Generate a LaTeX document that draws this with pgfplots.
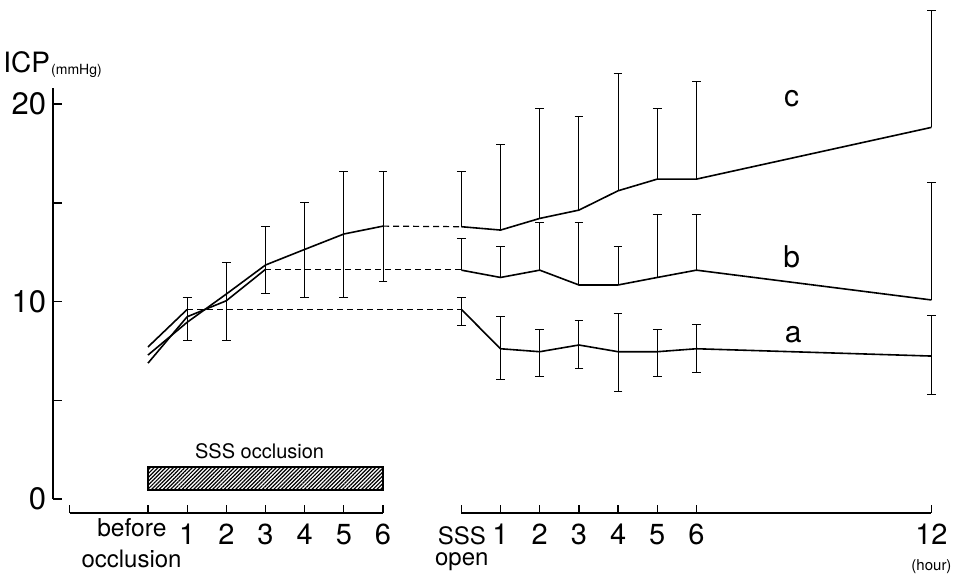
\documentclass[border=0pt]{standalone}
\usepackage{fontspec}
\setmainfont{TeX Gyre Heros}
\usepackage{pgfplots}
\pgfplotsset{compat=1.18}
\usetikzlibrary{calc,patterns.meta}

% 1 px of the reference = 0.5pt; x unit = 39.18 px, y unit = 19.75 px
\pgfplotsset{
  ebar/.style={draw=none, forget plot,
    error bars/.cd, y dir=#1, y explicit,
    error bar style={draw=black, line width=0.5pt},
    error mark options={draw=black, rotate=90, mark size=2.2pt, line width=0.5pt}},
  curve/.style={black, line width=0.8pt, forget plot},
  link/.style={black, line width=0.6pt, dash pattern=on 3pt off 2pt, forget plot},
}

\begin{document}
\begin{tikzpicture}
\begin{axis}[name=main,
  x=19.59pt, y=9.875pt,
  xmin=-2.42, xmax=20.6, ymin=0, ymax=20.8,
  clip=false,
  axis x line=none, axis y line=left, xtick=\empty,
  y axis line style={-, line width=1.3pt},
  ytick={0,5,10,15,20}, yticklabels={0,,10,,20},
  tick align=inside, major tick length=4.5pt,
  ytick style={line width=0.7pt, black},
  yticklabel style={font=\fontsize{15.5}{15.5}\selectfont},
]
  % occlusion bar
  \addplot[draw=black, line width=0.6pt, forget plot,
    pattern={Lines[angle=45, distance=1.35pt, line width=0.6pt]}]
    coordinates {(0,0.46) (6,0.46) (6,1.62) (0,1.62)} -- cycle;

  % during occlusion
  \addplot[curve] coordinates {(0,7.70) (1,9.60)};
  \addplot[curve] coordinates {(0,6.88) (1,9.23) (2,10.04) (3,11.63)};
  \addplot[curve] coordinates {(0,7.29) (1,8.95) (2,10.38) (3,11.85) (4,12.64) (5,13.42) (6,13.82)};
  \addplot[ebar=both] coordinates {
    (1,9.14) +- (0,1.09)
    (2,10.02) +- (0,1.98)
    (3,12.12) +- (0,1.70)
    (4,12.60) +- (0,2.40)
    (5,13.41) +- (0,3.20)
    (6,13.80) +- (0,2.80)
  };

  % levels carried to reopening
  \addplot[link] coordinates {(1,9.60) (8,9.60)};
  \addplot[link] coordinates {(3,11.63) (8,11.63)};
  \addplot[link] coordinates {(6,13.82) (8,13.79)};

  % after SSS open (x = 8 + hour, 12 h at 20)
  \addplot[curve] coordinates {(8,9.60) (9,7.61) (10,7.46) (11,7.80) (12,7.46) (13,7.46) (14,7.61) (20,7.24)};
  \addplot[curve] coordinates {(8,11.59) (9,11.22) (10,11.59) (11,10.84) (12,10.84) (13,11.22) (14,11.59) (20,10.08)};
  \addplot[curve] coordinates {(8,13.79) (9,13.62) (10,14.21) (11,14.63) (12,15.61) (13,16.20) (14,16.20) (20,18.82)};

  \addplot[ebar=both] coordinates {
    (8,9.60) += (0,0.59) -= (0,0.79)
    (9,7.61) += (0,1.61) -= (0,1.58)
    (10,7.46) += (0,1.15) -= (0,1.23)
    (11,7.80) += (0,1.23) -= (0,1.17)
    (12,7.46) += (0,1.96) -= (0,2.03)
    (13,7.46) += (0,1.15) -= (0,1.23)
    (14,7.61) += (0,1.22) -= (0,1.18)
    (20,7.24) += (0,2.03) -= (0,1.97)
  };
  \addplot[ebar=plus] coordinates {
    (8,11.59) += (0,1.61)
    (9,11.22) += (0,1.57)
    (10,11.59) += (0,2.40)
    (11,10.84) += (0,3.15)
    (12,10.84) += (0,1.95)
    (13,11.22) += (0,3.18)
    (14,11.59) += (0,2.81)
    (20,10.08) += (0,5.94)
  };
  \addplot[ebar=plus] coordinates {
    (8,13.79) += (0,2.78)
    (9,13.62) += (0,4.35)
    (10,14.21) += (0,5.57)
    (11,14.63) += (0,4.73)
    (12,15.61) += (0,5.93)
    (13,16.20) += (0,3.56)
    (14,16.20) += (0,4.96)
    (20,18.82) += (0,5.94)
  };

  % texts
  \node[anchor=base west, inner sep=0, font=\fontsize{14}{14}\selectfont] at (axis cs:-3.70,21.62) {ICP};
  \node[anchor=base west, inner sep=0, font=\fontsize{7}{7}\selectfont] at (axis cs:-2.48,21.52) {(mmHg)};
  \node[font=\fontsize{15}{15}\selectfont] at (axis cs:16.43,20.25) {c};
  \node[font=\fontsize{15}{15}\selectfont] at (axis cs:16.43,12.25) {b};
  \node[font=\fontsize{15}{15}\selectfont] at (axis cs:16.47,8.30) {a};
  \node[font=\fontsize{10}{10}\selectfont] at (axis cs:2.85,2.40) {SSS occlusion};
  \node[anchor=base, inner sep=0, font=\fontsize{12.3}{12.3}\selectfont] at (axis cs:-0.41,-1.91) {before};
  \node[anchor=base, inner sep=0, font=\fontsize{12}{12}\selectfont] at (axis cs:-0.42,-3.49) {occlusion};
  \node[anchor=base, inner sep=0, font=\fontsize{12}{12}\selectfont] at (axis cs:8.01,-2.28) {SSS};
  \node[anchor=base, inner sep=0, font=\fontsize{12}{12}\selectfont] at (axis cs:8.01,-3.39) {open};
  \node[inner sep=0, font=\fontsize{7.5}{7.5}\selectfont] at (axis cs:20,-3.42) {(hour)};
  \coordinate (A0) at (axis cs:-2,0);
  \coordinate (B0) at (axis cs:8,0);
  \coordinate (BL) at (axis cs:-3.777,-3.9);
  \coordinate (TR) at (axis cs:20.83,25.27);
\end{axis}

\pgfplotsset{
  timeaxis/.style={anchor=south west, x=19.59pt, y=1pt, ymin=0, ymax=1,
    axis x line=bottom, axis y line=none, ytick=\empty,
    x axis line style={-, line width=1pt},
    tick align=inside, major tick length=4pt,
    xtick style={line width=0.6pt, black},
    xticklabel style={font=\fontsize{14.5}{14.5}\selectfont, yshift=-2pt}}
}
\begin{axis}[timeaxis, at={($(A0)+(0,-7pt)$)}, xmin=-2, xmax=6,
  xtick={-2,0,1,2,3,4,5,6}, xticklabels={,,1,2,3,4,5,6}]
\end{axis}
\begin{axis}[timeaxis, at={($(B0)+(0,-7pt)$)}, xmin=8, xmax=20,
  xtick={8,9,10,11,12,13,14,20}, xticklabels={,1,2,3,4,5,6,12}]
\end{axis}

\pgfresetboundingbox
\path[use as bounding box] (BL) rectangle (TR);
\end{tikzpicture}
\end{document}
